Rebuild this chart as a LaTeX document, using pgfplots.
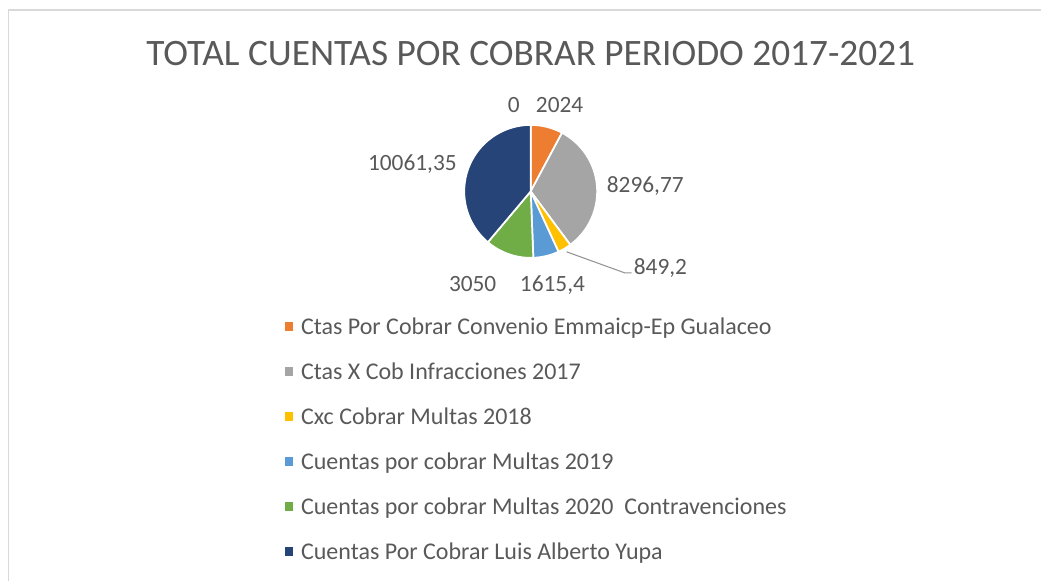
\documentclass[border=0pt]{standalone}
\usepackage{fontspec}
\setmainfont{Carlito}
\usepackage{pgfplots}
\pgfplotsset{compat=1.18}
\definecolor{cA}{HTML}{ED7D31}
\definecolor{cB}{HTML}{A5A5A5}
\definecolor{cC}{HTML}{FFC000}
\definecolor{cD}{HTML}{5B9BD5}
\definecolor{cE}{HTML}{70AD47}
\definecolor{cF}{HTML}{264478}
\definecolor{txt}{HTML}{595959}
\definecolor{frm}{HTML}{D9D9D9}
% values
\def\vZ{0}
\def\vA{2024}
\def\vB{8296.77}
\def\vC{849.2}
\def\vD{1615.4}
\def\vE{3050}
\def\vF{10061.35}
\edef\T{\fpeval{\vZ+\vA+\vB+\vC+\vD+\vE+\vF}}
\edef\aA{\fpeval{round((\vZ)/\T*360,4)}}
\edef\aB{\fpeval{round((\vZ+\vA)/\T*360,4)}}
\edef\aC{\fpeval{round((\vZ+\vA+\vB)/\T*360,4)}}
\edef\aD{\fpeval{round((\vZ+\vA+\vB+\vC)/\T*360,4)}}
\edef\aE{\fpeval{round((\vZ+\vA+\vB+\vC+\vD)/\T*360,4)}}
\edef\aF{\fpeval{round((\vZ+\vA+\vB+\vC+\vD+\vE)/\T*360,4)}}
\def\cx{531}
\def\cy{191.5}
\def\R{66.5}
\newcommand{\slice}[3]{%
  \addplot[fill=#1, draw=white, line width=1.3pt, line join=round, domain=#2:#3, samples=60]
    ({\cx+\R*sin(x)},{\cy-\R*cos(x)}) -- (axis cs:\cx,\cy) -- cycle;}
\begin{document}
\begin{tikzpicture}
\begin{axis}[
  scale only axis, width=781.5pt, height=435.75pt,
  xmin=0, xmax=1042, ymin=0, ymax=581, y dir=reverse,
  hide axis, clip=false]
\path (axis cs:0,0) rectangle (axis cs:1042,581);
\draw[frm, line width=0.9pt] (axis cs:8.5,581) -- (axis cs:8.5,10) -- (axis cs:1042,10);
\node[anchor=base, text=txt, font=\fontsize{28}{32}\selectfont, inner sep=0] at (axis cs:531,66) {TOTAL CUENTAS POR COBRAR PERIODO 2017-2021};
\slice{cA}{\aA}{\aB}
\slice{cB}{\aB}{\aC}
\slice{cC}{\aC}{\aD}
\slice{cD}{\aD}{\aE}
\slice{cE}{\aE}{\aF}
\slice{cF}{\aF}{360}
% leader line
\draw[cB!90!black, line width=0.8pt] (axis cs:567,252) -- (axis cs:625,273) -- (axis cs:632,273);
% data labels
\begin{scope}[every node/.style={anchor=base west, text=txt, font=\fontsize{17.5}{21}\selectfont, inner sep=0}]
\node at (axis cs:508,113) {0};
\node at (axis cs:536,113) {2024};
\node at (axis cs:607,193) {8296,77};
\node at (axis cs:634,275) {849,2};
\node at (axis cs:520,292) {1615,4};
\node at (axis cs:449,292) {3050};
\node at (axis cs:368,171) {10061,35};
\end{scope}
% legend
\begin{scope}[every node/.style={anchor=base west, text=txt, font=\fontsize{18}{21}\selectfont, inner sep=0}]
\fill[cA] (axis cs:285,322.5) rectangle (axis cs:293,331);
\node at (axis cs:301,334.5) {Ctas Por Cobrar Convenio Emmaicp-Ep Gualaceo};
\fill[cB] (axis cs:285,367.5) rectangle (axis cs:293,376);
\node at (axis cs:301,379.5) {Ctas X Cob Infracciones 2017};
\fill[cC] (axis cs:285,412.5) rectangle (axis cs:293,421);
\node at (axis cs:301,424.5) {Cxc Cobrar Multas 2018};
\fill[cD] (axis cs:285,457.5) rectangle (axis cs:293,466);
\node at (axis cs:301,469.5) {Cuentas por cobrar Multas 2019};
\fill[cE] (axis cs:285,502.5) rectangle (axis cs:293,511);
\node at (axis cs:301,514.5) {Cuentas por cobrar Multas 2020\ \ Contravenciones};
\fill[cF] (axis cs:285,547.5) rectangle (axis cs:293,556);
\node at (axis cs:301,559.5) {Cuentas Por Cobrar Luis Alberto Yupa};
\end{scope}
\end{axis}
\end{tikzpicture}
\end{document}
